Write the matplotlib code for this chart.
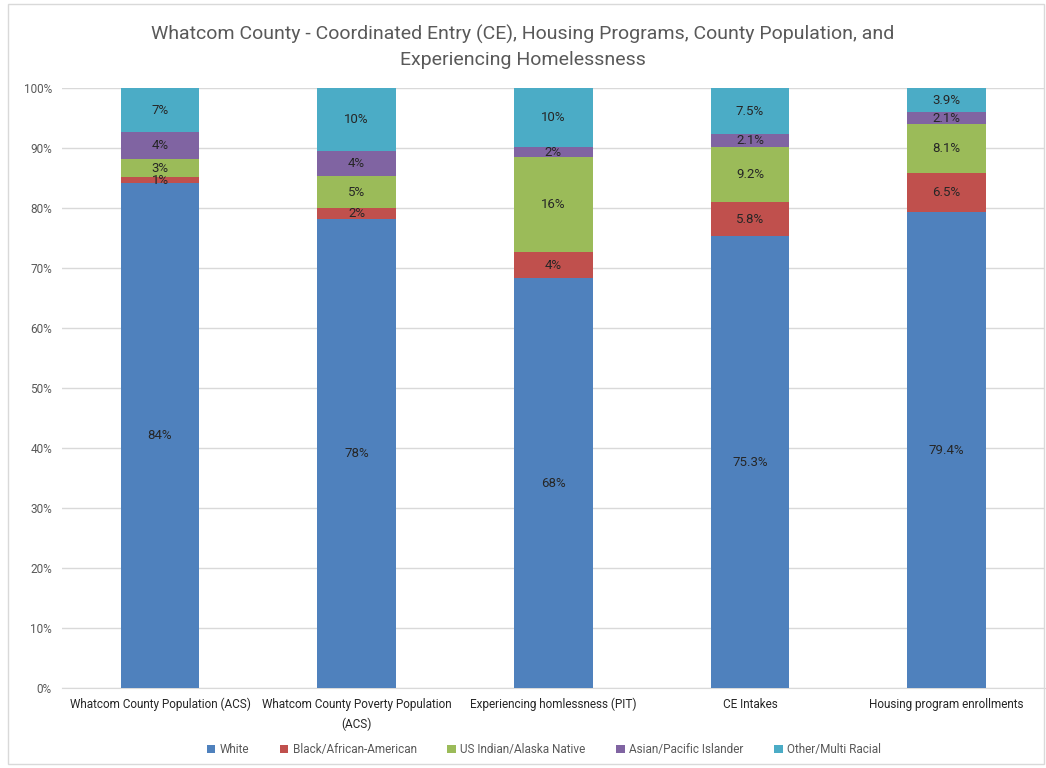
import matplotlib
matplotlib.use("Agg")
import matplotlib.pyplot as plt
from matplotlib.patches import Rectangle
import numpy as np

plt.rcParams['font.family'] = ['Roboto', 'DejaVu Sans']

categories = ["Whatcom County Population (ACS)",
              "Whatcom County Poverty Population\n(ACS)",
              "Experiencing homlessness (PIT)",
              "CE Intakes",
              "Housing program enrollments"]
series_names = ["White", "Black/African-American", "US Indian/Alaska Native",
                "Asian/Pacific Islander", "Other/Multi Racial"]
white = [84.2, 78.2, 68.3, 75.3, 79.4]
black = [1.0, 1.8, 4.4, 5.8, 6.5]
aian = [3.0, 5.3, 15.8, 9.2, 8.1]
asian = [4.5, 4.2, 1.7, 2.13, 2.1]
other = [7.3, 10.5, 9.8, 7.54, 3.9]
label_decimals = [0, 0, 0, 1, 1]
yticks = [0, 10, 20, 30, 40, 50, 60, 70, 80, 90, 100]

colors = ["#4F81BD", "#C0504D", "#9BBB59", "#8064A2", "#4BACC6"]
series = [white, black, aian, asian, other]

fig = plt.figure(figsize=(10.46, 7.68), dpi=100)
ax = fig.add_axes([0.059, 0.104, 0.94, 0.781])
x = np.arange(len(categories))
bottom = np.zeros(len(categories))
for name, vals, c in zip(series_names, series, colors):
    vals = np.array(vals)
    ax.bar(x, vals, 0.40, bottom=bottom, color=c, label=name, zorder=3)
    for i, v in enumerate(vals):
        d = label_decimals[i]
        ax.text(x[i], bottom[i] + v / 2, f"{v:.{d}f}%", ha="center", va="center",
                fontsize=9.5, color="#262626", zorder=4)
    bottom += vals

ax.set_xlim(-0.5, len(categories) - 0.5)
ax.set_ylim(0, 100)
ax.set_yticks(yticks)
ax.set_yticklabels([f"{t}%" for t in yticks], fontsize=8.5, color="#595959")
ax.set_xticks(x)
ax.set_xticklabels(categories, fontsize=8.5, color="#262626", linespacing=1.6)
ax.tick_params(length=0, pad=7)
ax.yaxis.grid(True, color="#D9D9D9", linewidth=1, zorder=0)
for s in ["top", "right", "left"]:
    ax.spines[s].set_visible(False)
ax.spines["bottom"].set_color("#D9D9D9")

fig.suptitle("Whatcom County - Coordinated Entry (CE), Housing Programs, County Population, and\nExperiencing Homelessness",
             y=0.968, fontsize=14, color="#595959", linespacing=1.5)

fig.legend(loc="center", bbox_to_anchor=(0.52, 0.024), ncol=5, frameon=False,
           fontsize=8.5, handlelength=0.7, handleheight=0.7, columnspacing=2.6,
           handletextpad=0.4, labelcolor="#595959")

fig.patches.append(Rectangle((0.008, 0.005), 0.99, 0.99, transform=fig.transFigure,
                             fill=False, edgecolor="#D9D9D9", linewidth=1))

fig.savefig("out.png", dpi=100)
